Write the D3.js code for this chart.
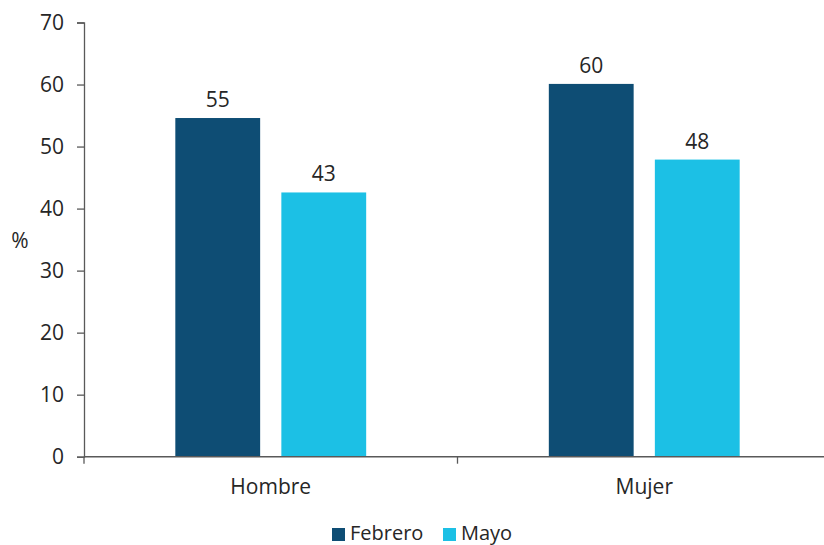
<!DOCTYPE html>
<html>
<head>
<meta charset="utf-8">
<script src="https://cdn.jsdelivr.net/npm/d3@7"></script>
<style>
body { margin:0; background:#fff; }
text { font-family:"Open Sans", sans-serif; fill:#262626; }
</style>
</head>
<body>
<svg id=chart width=824 height=545></svg>
<script>
var categories=["Hombre","Mujer"]
var seriesNames=["Febrero","Mayo"]
var febrero=[54.6,60.1]
var mayo=[42.6,47.9]
var labels=[["55","43"],["60","48"]]
var yTicks=[0,10,20,30,40,50,60,70]
var colors=["#0e4d74","#1cc0e5"]

var svg=d3.select("#chart")

var x0=d3.scaleBand()
  .domain(categories)
  .range([84,831])
  .paddingInner(0.489)
  .paddingOuter(0.2445)

var x1=d3.scaleBand()
  .domain(seriesNames)
  .range([0,x0.bandwidth()])
  .paddingInner(0.2)

var y=d3.scaleLinear()
  .domain([0,70])
  .range([456.7,22.5])

//---bars---
var values=[febrero,mayo]
categories.forEach(function(c,i){
  var g=svg.append("g").attr("transform","translate("+x0(c)+",0)")
  seriesNames.forEach(function(s,j){
    var v=values[j][i]
    g.append("rect")
     .attr("x",x1(s))
     .attr("y",y(v))
     .attr("width",x1.bandwidth())
     .attr("height",y(0)-y(v))
     .attr("fill",colors[j])
    g.append("text")
     .attr("x",x1(s)+x1.bandwidth()/2)
     .attr("y",y(v)-11)
     .attr("text-anchor","middle")
     .attr("font-size",21)
     .text(labels[i][j])
  })
})

//---y axis---
var yAxis=svg.append("g")
  .attr("transform","translate(84,0)")
  .call(d3.axisLeft(y).tickValues(yTicks).tickSize(7).tickPadding(13))
yAxis.selectAll("text").attr("font-size",21).style("font-family","Open Sans")
yAxis.selectAll("line,path").attr("stroke","#595959").attr("stroke-width",1.3)

//---x axis---
var xAxis=svg.append("g")
  .attr("transform","translate(0,"+y(0)+")")
xAxis.append("line")
  .attr("x1",84).attr("x2",831)
  .attr("stroke","#595959").attr("stroke-width",1.5)
var bounds=[84].concat(categories.map(function(c){return x0(c)+x0.bandwidth()/2+x0.step()/2}))
xAxis.selectAll(".tk").data(bounds).enter().append("line")
  .attr("x1",function(d){return d}).attr("x2",function(d){return d})
  .attr("y1",0).attr("y2",7)
  .attr("stroke","#595959").attr("stroke-width",1.3)
xAxis.selectAll(".lbl").data(categories).enter().append("text")
  .attr("x",function(c){return x0(c)+x0.bandwidth()/2})
  .attr("y",37)
  .attr("text-anchor","middle")
  .attr("font-size",21)
  .text(function(c){return c})

//---y title---
svg.append("text")
  .attr("x",20).attr("y",248)
  .attr("text-anchor","middle")
  .attr("font-size",21)
  .text("%")

//---legend---
var legX=[332,443]
seriesNames.forEach(function(s,j){
  svg.append("rect")
   .attr("x",legX[j]).attr("y",528)
   .attr("width",13).attr("height",13)
   .attr("fill",colors[j])
  svg.append("text")
   .attr("x",legX[j]+18).attr("y",540)
   .attr("font-size",20)
   .text(s)
})
</script>
</body>
</html>
